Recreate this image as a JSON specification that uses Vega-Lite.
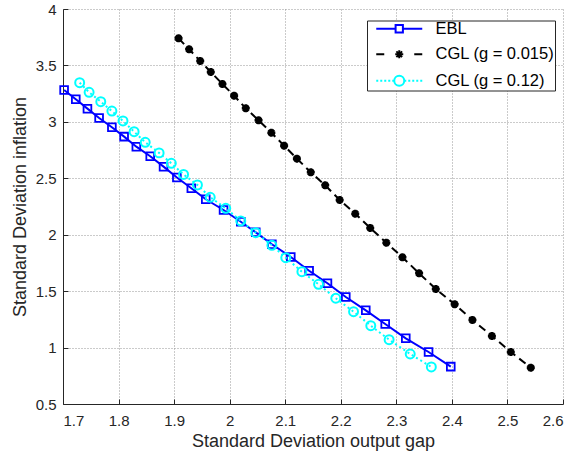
{
  "$schema": "https://vega.github.io/schema/vega-lite/v6.json",
  "width": 500,
  "height": 395,
  "autosize": {"type": "none"},
  "padding": {"left": 63, "top": 9, "right": 10, "bottom": 53},
  "background": "white",
  "config": {
    "font": "Liberation Sans",
    "view": {"stroke": null},
    "axis": {
      "domainColor": "#262626",
      "tickColor": "#262626",
      "labelColor": "#262626",
      "titleColor": "#262626",
      "labelFont": "Liberation Sans",
      "titleFont": "Liberation Sans",
      "labelFontSize": 15,
      "titleFontSize": 18,
      "titleFontWeight": "normal",
      "gridColor": "#8c8c8c",
      "gridDash": [1, 2],
      "gridOpacity": 0.9,
      "tickSize": -5
    }
  },
  "data": {
    "values": [
      {"series": "EBL", "gap": 1.702, "infl": 3.282},
      {"series": "EBL", "gap": 1.723, "infl": 3.200},
      {"series": "EBL", "gap": 1.744, "infl": 3.117},
      {"series": "EBL", "gap": 1.765, "infl": 3.034},
      {"series": "EBL", "gap": 1.788, "infl": 2.952},
      {"series": "EBL", "gap": 1.810, "infl": 2.869},
      {"series": "EBL", "gap": 1.832, "infl": 2.780},
      {"series": "EBL", "gap": 1.857, "infl": 2.695},
      {"series": "EBL", "gap": 1.881, "infl": 2.603},
      {"series": "EBL", "gap": 1.905, "infl": 2.507},
      {"series": "EBL", "gap": 1.931, "infl": 2.412},
      {"series": "EBL", "gap": 1.957, "infl": 2.314},
      {"series": "EBL", "gap": 1.989, "infl": 2.219},
      {"series": "EBL", "gap": 2.020, "infl": 2.115},
      {"series": "EBL", "gap": 2.047, "infl": 2.021},
      {"series": "EBL", "gap": 2.076, "infl": 1.915},
      {"series": "EBL", "gap": 2.110, "infl": 1.803},
      {"series": "EBL", "gap": 2.143, "infl": 1.681},
      {"series": "EBL", "gap": 2.176, "infl": 1.570},
      {"series": "EBL", "gap": 2.209, "infl": 1.448},
      {"series": "EBL", "gap": 2.245, "infl": 1.330},
      {"series": "EBL", "gap": 2.280, "infl": 1.209},
      {"series": "EBL", "gap": 2.317, "infl": 1.082},
      {"series": "EBL", "gap": 2.358, "infl": 0.961},
      {"series": "EBL", "gap": 2.398, "infl": 0.831},
      {"series": "CGL (g = 0.015)", "gap": 1.908, "infl": 3.740},
      {"series": "CGL (g = 0.015)", "gap": 1.927, "infl": 3.643},
      {"series": "CGL (g = 0.015)", "gap": 1.947, "infl": 3.539},
      {"series": "CGL (g = 0.015)", "gap": 1.966, "infl": 3.442},
      {"series": "CGL (g = 0.015)", "gap": 1.987, "infl": 3.335},
      {"series": "CGL (g = 0.015)", "gap": 2.008, "infl": 3.232},
      {"series": "CGL (g = 0.015)", "gap": 2.029, "infl": 3.120},
      {"series": "CGL (g = 0.015)", "gap": 2.052, "infl": 3.014},
      {"series": "CGL (g = 0.015)", "gap": 2.075, "infl": 2.904},
      {"series": "CGL (g = 0.015)", "gap": 2.098, "infl": 2.789},
      {"series": "CGL (g = 0.015)", "gap": 2.121, "infl": 2.674},
      {"series": "CGL (g = 0.015)", "gap": 2.146, "infl": 2.553},
      {"series": "CGL (g = 0.015)", "gap": 2.172, "infl": 2.438},
      {"series": "CGL (g = 0.015)", "gap": 2.198, "infl": 2.308},
      {"series": "CGL (g = 0.015)", "gap": 2.226, "infl": 2.186},
      {"series": "CGL (g = 0.015)", "gap": 2.253, "infl": 2.060},
      {"series": "CGL (g = 0.015)", "gap": 2.282, "infl": 1.929},
      {"series": "CGL (g = 0.015)", "gap": 2.311, "infl": 1.800},
      {"series": "CGL (g = 0.015)", "gap": 2.341, "infl": 1.658},
      {"series": "CGL (g = 0.015)", "gap": 2.371, "infl": 1.519},
      {"series": "CGL (g = 0.015)", "gap": 2.405, "infl": 1.384},
      {"series": "CGL (g = 0.015)", "gap": 2.437, "infl": 1.244},
      {"series": "CGL (g = 0.015)", "gap": 2.472, "infl": 1.103},
      {"series": "CGL (g = 0.015)", "gap": 2.506, "infl": 0.961},
      {"series": "CGL (g = 0.015)", "gap": 2.542, "infl": 0.822},
      {"series": "CGL (g = 0.12)", "gap": 1.730, "infl": 3.347},
      {"series": "CGL (g = 0.12)", "gap": 1.747, "infl": 3.262},
      {"series": "CGL (g = 0.12)", "gap": 1.768, "infl": 3.179},
      {"series": "CGL (g = 0.12)", "gap": 1.788, "infl": 3.096},
      {"series": "CGL (g = 0.12)", "gap": 1.808, "infl": 3.008},
      {"series": "CGL (g = 0.12)", "gap": 1.828, "infl": 2.913},
      {"series": "CGL (g = 0.12)", "gap": 1.848, "infl": 2.819},
      {"series": "CGL (g = 0.12)", "gap": 1.873, "infl": 2.725},
      {"series": "CGL (g = 0.12)", "gap": 1.895, "infl": 2.633},
      {"series": "CGL (g = 0.12)", "gap": 1.917, "infl": 2.534},
      {"series": "CGL (g = 0.12)", "gap": 1.942, "infl": 2.441},
      {"series": "CGL (g = 0.12)", "gap": 1.965, "infl": 2.332},
      {"series": "CGL (g = 0.12)", "gap": 1.993, "infl": 2.234},
      {"series": "CGL (g = 0.12)", "gap": 2.020, "infl": 2.122},
      {"series": "CGL (g = 0.12)", "gap": 2.047, "infl": 2.018},
      {"series": "CGL (g = 0.12)", "gap": 2.076, "infl": 1.906},
      {"series": "CGL (g = 0.12)", "gap": 2.101, "infl": 1.796},
      {"series": "CGL (g = 0.12)", "gap": 2.130, "infl": 1.672},
      {"series": "CGL (g = 0.12)", "gap": 2.160, "infl": 1.561},
      {"series": "CGL (g = 0.12)", "gap": 2.191, "infl": 1.437},
      {"series": "CGL (g = 0.12)", "gap": 2.223, "infl": 1.318},
      {"series": "CGL (g = 0.12)", "gap": 2.254, "infl": 1.194},
      {"series": "CGL (g = 0.12)", "gap": 2.287, "infl": 1.070},
      {"series": "CGL (g = 0.12)", "gap": 2.325, "infl": 0.943},
      {"series": "CGL (g = 0.12)", "gap": 2.363, "infl": 0.828}
    ]
  },
  "encoding": {
    "x": {
      "field": "gap",
      "type": "quantitative",
      "title": "Standard Deviation output gap",
      "scale": {"domain": [1.7, 2.6], "nice": false, "zero": false},
      "axis": {"values": [1.7, 1.8, 1.9, 2, 2.1, 2.2, 2.3, 2.4, 2.5, 2.6], "format": "~g", "labelPadding": 14, "titlePadding": 4}
    },
    "y": {
      "field": "infl",
      "type": "quantitative",
      "title": "Standard Deviation inflation",
      "scale": {"domain": [0.5, 4], "nice": false, "zero": false},
      "axis": {"values": [0.5, 1, 1.5, 2, 2.5, 3, 3.5, 4], "format": "~g", "labelPadding": 12, "titlePadding": 6}
    }
  },
  "layer": [
    {
      "transform": [{"filter": "datum.series === 'EBL'"}],
      "mark": {"type": "line", "strokeWidth": 2, "color": "#0000ff"}
    },
    {
      "transform": [{"filter": "datum.series === 'EBL'"}],
      "mark": {"type": "point", "shape": "square", "filled": false, "size": 60, "strokeWidth": 1.8, "color": "#0000ff", "opacity": 1}
    },
    {
      "transform": [{"filter": "datum.series === 'CGL (g = 0.015)'"}],
      "mark": {"type": "line", "strokeWidth": 2, "color": "#000000", "strokeDash": [8, 5]}
    },
    {
      "transform": [{"filter": "datum.series === 'CGL (g = 0.015)'"}],
      "mark": {"type": "point", "shape": "M-1,0H1M0,-1V1M-0.7,-0.7L0.7,0.7M-0.7,0.7L0.7,-0.7", "filled": false, "size": 64, "strokeWidth": 2.6, "color": "#000000", "opacity": 1}
    },
    {
      "transform": [{"filter": "datum.series === 'CGL (g = 0.12)'"}],
      "mark": {"type": "line", "strokeWidth": 2, "color": "#00ffff", "strokeDash": [2, 3]}
    },
    {
      "transform": [{"filter": "datum.series === 'CGL (g = 0.12)'"}],
      "mark": {"type": "point", "shape": "circle", "filled": false, "size": 80, "strokeWidth": 2, "color": "#00ffff", "opacity": 1}
    },
    {
      "transform": [{"filter": "datum.gap < 0"}],
      "mark": {"type": "point", "filled": false, "strokeWidth": 2, "opacity": 1},
      "encoding": {
        "color": {
          "field": "series",
          "type": "nominal",
          "scale": {"domain": ["EBL", "CGL (g = 0.015)", "CGL (g = 0.12)"], "range": ["#0000ff", "#000000", "#00ffff"]},
          "legend": {
            "title": null,
            "orient": "none",
            "legendX": 304,
            "legendY": 11.5,
            "strokeColor": "#262626",
            "fillColor": "white",
            "padding": 0,
            "labelFontSize": 16.5,
            "labelFont": "Liberation Sans",
            "labelColor": "#000000",
            "symbolSize": 100,
            "symbolStrokeWidth": 2,
            "symbolOpacity": 1,
            "symbolOffset": 6,
            "rowPadding": 8.5,
            "labelOffset": 46
          }
        },
        "shape": {
          "field": "series",
          "type": "nominal",
          "scale": {
            "domain": ["EBL", "CGL (g = 0.015)", "CGL (g = 0.12)"],
            "range": [
              "M-1,0H2.87M4.33,0H8.2M2.87,-0.73H4.33V0.73H2.87Z",
              "M-1,0H0.6M6.6,0H8.2M2.8,0H4.4M3.6,-0.8V0.8M3.03,-0.57L4.17,0.57M3.03,0.57L4.17,-0.57",
              "M-1,0H-0.6M-0.2,0H0.2M0.6,0H1M1.4,0H1.8M2.2,0H2.5M4.7,0H5M5.4,0H5.8M6.2,0H6.6M7,0H7.4M7.8,0H8.2M4.6,0A1,1 0 1,1 2.6,0A1,1 0 1,1 4.6,0Z"
            ]
          },
          "legend": {
            "title": null,
            "orient": "none",
            "legendX": 304,
            "legendY": 11.5,
            "strokeColor": "#262626",
            "fillColor": "white",
            "padding": 0,
            "labelFontSize": 16.5,
            "labelFont": "Liberation Sans",
            "labelColor": "#000000",
            "symbolSize": 100,
            "symbolStrokeWidth": 2,
            "symbolOpacity": 1,
            "symbolOffset": 6,
            "rowPadding": 8.5,
            "labelOffset": 46
          }
        }
      }
    }
  ]
}
